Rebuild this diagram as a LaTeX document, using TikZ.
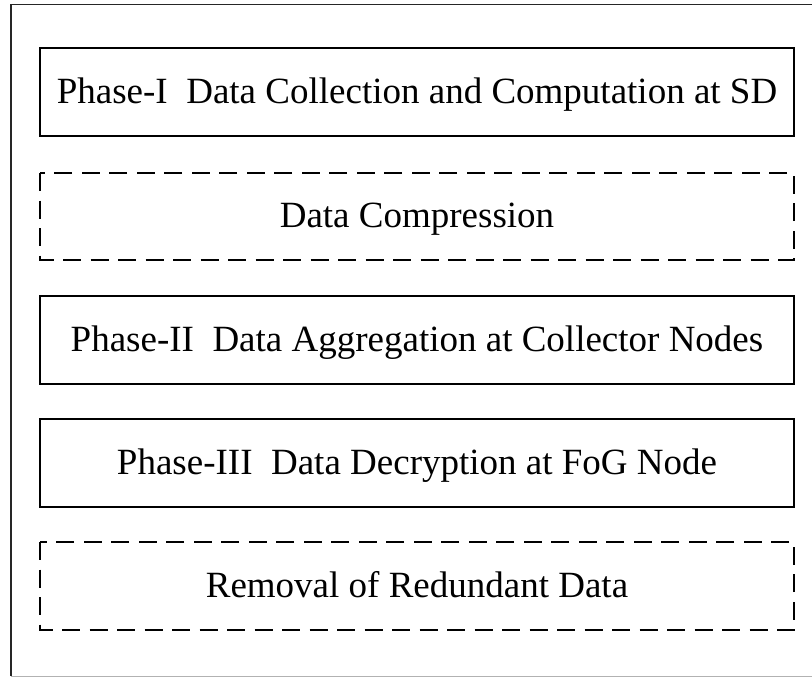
\documentclass[tikz,border=0pt]{standalone}
\usepackage{fontspec}
\setmainfont{Liberation Serif}
\begin{document}
\begin{tikzpicture}[x=1pt,y=-1pt,
  phasebox/.style={draw=black,line width=1.8pt},
  dashbox/.style={draw=black,line width=2pt,dash pattern=on 18pt off 9.5pt},
  lbl/.style={font=\fontsize{37}{42}\selectfont,inner sep=0pt,anchor=base}]
\useasboundingbox (0,0) rectangle (812,677);
% outer frame
\draw[line width=1.8pt,black!85] (11,676) -- (11,4.5) -- (812,4.5);
\draw[line width=1pt,black!30] (11,676.2) -- (812,676.2);
% boxes
\draw[phasebox] (40,48) rectangle (794,136);
\draw[dashbox] (40,173) rectangle (794,260);
\draw[phasebox] (40,296) rectangle (794,384);
\draw[phasebox] (40,419) rectangle (794,507);
\draw[dashbox] (40,542) rectangle (794,630);
% labels
\node[lbl] (t1) at (417,103) {Phase-I\ \ Data Collection and Computation at SD};
\node[lbl] (t2) at (417,227.5) {Data Compression};
\node[lbl] (t3) at (417,351) {Phase-II\ \ Data Aggregation at Collector Nodes};
\node[lbl] (t4) at (417,474) {Phase-III\ \ Data Decryption at FoG Node};
\node[lbl] (t5) at (417,597) {Removal of Redundant Data};
\end{tikzpicture}
\end{document}
